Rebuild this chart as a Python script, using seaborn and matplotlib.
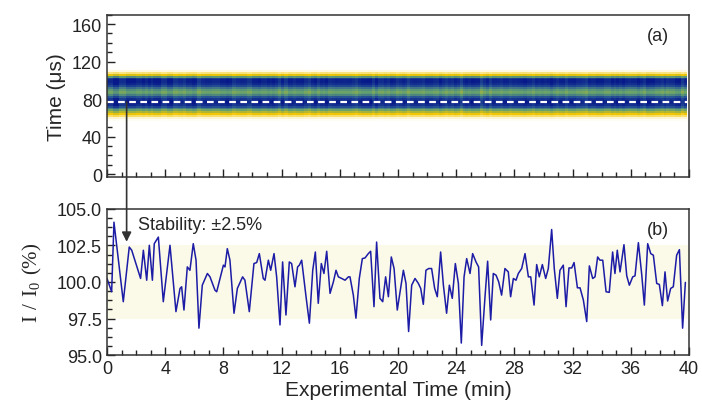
import numpy as np
import pandas as pd
import seaborn as sns
import matplotlib.pyplot as plt
from matplotlib.colors import LinearSegmentedColormap
from matplotlib.ticker import MultipleLocator, AutoMinorLocator

# experimental time (min) and normalised intensity I/I0 (%)
t_min = [0.00, 0.32, 0.48, 1.12, 1.53, 1.70, 2.31, 2.50, 2.73, 2.91, 3.12, 3.25, 3.53, 3.87,
         4.33, 4.74, 5.02, 5.13, 5.29, 5.52, 5.70, 5.93, 6.12, 6.32, 6.55, 6.90, 7.08, 7.42,
         7.54, 8.00, 8.11, 8.27, 8.45, 8.73, 8.96, 9.32, 9.48, 9.78, 10.10, 10.29, 10.47,
         10.74, 10.86, 11.09, 11.25, 11.48, 11.66, 11.89, 12.07, 12.30, 12.53, 12.69, 12.92,
         13.10, 13.22, 13.38, 13.68, 13.91, 14.14, 14.32, 14.52, 14.73, 14.91, 15.10, 15.33,
         15.56, 15.74, 15.90, 16.13, 16.36, 16.59, 16.70, 16.93, 17.11, 17.34, 17.55, 17.73,
         17.96, 18.12, 18.35, 18.53, 18.76, 18.95, 19.15, 19.34, 19.54, 19.73, 19.95, 20.14,
         20.37, 20.55, 20.73, 20.94, 21.17, 21.40, 21.56, 21.74, 21.92, 22.11, 22.31, 22.52,
         22.70, 22.93, 23.12, 23.34, 23.53, 23.73, 23.94, 24.15, 24.35, 24.54, 24.72, 24.95,
         25.13, 25.36, 25.54, 25.75, 25.98, 26.16, 26.37, 26.55, 26.74, 26.92, 27.12, 27.35,
         27.58, 27.74, 27.93, 28.11, 28.27, 28.50, 28.73, 28.96, 29.12, 29.35, 29.53, 29.71,
         29.92, 30.15, 30.33, 30.56, 30.74, 30.95, 31.13, 31.36, 31.55, 31.75, 31.94, 32.10,
         32.33, 32.51, 32.74, 32.97, 33.15, 33.38, 33.54, 33.72, 33.88, 34.07, 34.30, 34.52,
         34.75, 34.91, 35.07, 35.26, 35.53, 35.72, 35.90, 36.13, 36.29, 36.52, 36.75, 36.93,
         37.16, 37.37, 37.55, 37.78, 37.96, 38.17, 38.35, 38.53, 38.74, 38.92, 39.15, 39.34,
         39.56, 39.75]
ratio = [100.24, 99.33, 104.09, 98.65, 102.39, 102.17, 100.24, 102.17, 100.12, 102.51, 100.12,
         102.62, 103.07, 98.65, 102.51, 97.97, 99.56, 99.67, 98.08, 101.03, 100.80, 102.62,
         101.49, 96.84, 99.78, 100.58, 100.35, 99.44, 99.33, 101.15, 101.03, 102.28, 101.49,
         97.86, 99.56, 100.35, 100.12, 97.97, 101.26, 101.33, 101.94, 100.24, 100.12, 101.49,
         100.80, 101.94, 100.35, 97.06, 101.37, 97.74, 101.37, 101.26, 99.67, 101.03, 101.15,
         101.49, 98.99, 97.18, 100.80, 102.05, 98.54, 101.26, 100.58, 102.10, 99.22, 100.01,
         100.80, 100.35, 100.24, 100.12, 100.35, 100.35, 99.10, 97.52, 100.24, 101.60, 101.64,
         101.94, 102.10, 98.31, 102.73, 98.88, 98.65, 100.35, 98.99, 101.71, 100.92, 98.08,
         99.33, 100.80, 99.90, 96.61, 99.78, 100.24, 99.90, 99.56, 98.47, 100.80, 100.92,
         100.92, 99.56, 98.99, 102.05, 99.78, 97.86, 99.78, 98.88, 101.26, 99.90, 95.82,
         100.35, 101.60, 100.58, 101.94, 101.37, 101.03, 95.66, 98.99, 101.42, 97.40, 100.58,
         100.46, 100.01, 99.10, 100.92, 100.69, 98.99, 100.24, 100.12, 100.58, 100.92, 101.94,
         100.35, 100.35, 98.42, 101.19, 100.35, 101.19, 100.24, 100.92, 103.59, 100.92, 98.88,
         100.80, 101.15, 98.31, 100.96, 100.96, 101.33, 99.60, 99.60, 98.76, 97.29, 101.10,
         100.24, 100.35, 101.71, 101.49, 101.49, 99.33, 99.29, 102.05, 100.58, 102.17, 100.69,
         102.55, 100.42, 99.78, 100.35, 100.42, 102.69, 100.51, 98.42, 102.62, 101.94, 101.83,
         99.90, 99.83, 98.38, 100.69, 98.70, 99.56, 99.67, 101.83, 102.21, 96.84, 99.97]

# signal profile across the time-of-flight axis (us)
profile_us = [56, 58, 60, 62, 64, 66, 68, 70, 72, 74, 76, 78, 80, 82, 84, 86, 88, 90, 92,
              94, 96, 98, 100, 102, 104, 106, 108, 110, 112, 114]
profile_level = [0.0, 0.02, 0.08, 0.20, 0.30, 0.40, 0.50, 0.62, 0.78, 0.90, 0.95, 0.95,
                 0.88, 0.75, 0.60, 0.52, 0.50, 0.55, 0.65, 0.80, 0.90, 0.95, 0.95, 0.85,
                 0.55, 0.32, 0.18, 0.06, 0.01, 0.0]
marker_us = 77
band = (97.5, 102.5)
arrow_t = 1.35

sns.set_style('ticks')
plt.rcParams['font.family'] = ['Liberation Sans', 'DejaVu Sans']

cmap = LinearSegmentedColormap.from_list(
    'tof', [(0.0, '#ffffff'), (0.12, '#fbf0bd'), (0.3, '#f3c600'),
            (0.52, '#62a070'), (0.74, '#2a5896'), (1.0, '#06188a')])

scale = 1 + (np.array(ratio) - 100) * 0.025
img = np.clip(np.outer(profile_level, scale), 0, 1)

fig = plt.figure(figsize=(7.02, 4.14), dpi=100)
ax1 = fig.add_axes([0.1524, 0.570, 0.8291, 0.392])
ax2 = fig.add_axes([0.1524, 0.140, 0.8291, 0.353])

# (a) time-resolved signal map
ax1.pcolormesh(t_min, profile_us, img, shading='nearest', cmap=cmap, vmin=0, vmax=1,
               rasterized=True)
ax1.axhline(marker_us, color='white', lw=1.6, ls=(0, (3, 2)))
ax1.set_xlim(0, 40)
ax1.set_ylim(-3, 170)
ax1.yaxis.set_major_locator(MultipleLocator(40))
ax1.xaxis.set_major_locator(MultipleLocator(4))
ax1.tick_params(labelbottom=False)
ax1.set_ylabel('Time (μs)', fontsize=15, labelpad=4)
ax1.text(0.965, 0.87, '(a)', transform=ax1.transAxes, ha='right', va='center', fontsize=13)

# (b) intensity stability
df = pd.DataFrame({'t': t_min, 'ratio': ratio})
ax2.axhspan(band[0], band[1], color='#fbf9e8', zorder=0, lw=0)
sns.lineplot(data=df, x='t', y='ratio', ax=ax2, color='#1c1ca6', lw=1.1)
ax2.set_xlim(0, 40)
ax2.set_ylim(95, 105)
ax2.xaxis.set_major_locator(MultipleLocator(4))
ax2.yaxis.set_major_locator(MultipleLocator(2.5))
ax2.yaxis.set_major_formatter('{x:.1f}')
ax2.set_xlabel('Experimental Time (min)', fontsize=15, labelpad=2)
ax2.set_ylabel(r'$\mathregular{I\ /\ I_0\ (\%)}$', fontsize=15,
               family=['Liberation Serif', 'DejaVu Serif'], labelpad=9)
ax2.text(2.1, 103.9, 'Stability: ±2.5%', ha='left', va='center', fontsize=13)
ax2.text(0.965, 0.86, '(b)', transform=ax2.transAxes, ha='right', va='center', fontsize=13)

for ax in (ax1, ax2):
    ax.xaxis.set_minor_locator(AutoMinorLocator(4))
    ax.yaxis.set_minor_locator(AutoMinorLocator(4))
    ax.tick_params(which='both', direction='in', colors='#222222', labelsize=13,
                   top=False, right=False)
    ax.tick_params(which='major', length=6, width=1)
    ax.tick_params(which='minor', length=3.5, width=1)
    for s in ax.spines.values():
        s.set_color('#333333')
        s.set_linewidth(1.1)

# arrow from the marker line down to the stability panel
ax2.annotate('', xy=(arrow_t, 102.75), xycoords=ax2.transData,
             xytext=(arrow_t, marker_us), textcoords=ax1.transData,
             arrowprops=dict(arrowstyle='-|>', color='#333333', lw=1.2,
                             mutation_scale=14, shrinkA=0, shrinkB=0),
             annotation_clip=False)

fig.savefig('out.png', dpi=100)
